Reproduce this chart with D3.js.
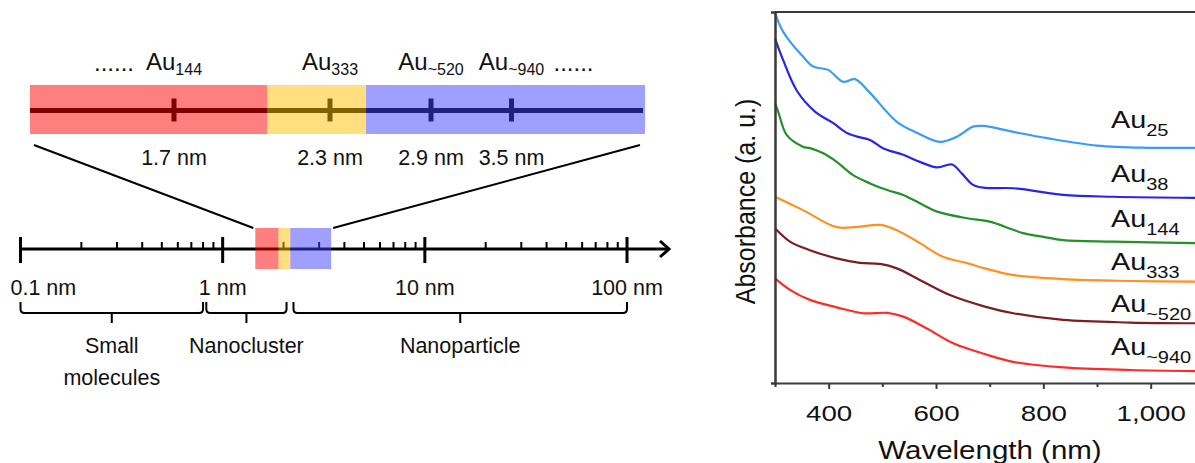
<!DOCTYPE html>
<html>
<head>
<meta charset="utf-8">
<script src="https://cdn.jsdelivr.net/npm/d3@7"></script>
<style>
  html, body { margin: 0; padding: 0; background: #fff; overflow: hidden; }
  text { font-family: "Liberation Sans", Arial, Helvetica, sans-serif; fill: #111; }
</style>
</head>
<body>
<svg id="fig" width="1195" height="463"></svg>
<script>
// ---------- size scale (left panel) ----------
const decadeTicks = [0.1, 1, 10, 100];
const decadeLabels = ["0.1 nm", "1 nm", "10 nm", "100 nm"];
const regionNames = [["Small", "molecules"], ["Nanocluster"], ["Nanoparticle"]];
const regionFrom = [0.1, 0.83, 2.24];
const regionTo = [0.8, 2.07, 100];
const bandColors = ["#ff0000", "#ffbf00", "#3f3fff"];
const bandFrom = [1.45, 1.89, 2.16];
const bandTo = [1.89, 2.16, 3.44];
const clusterSubs = ["144", "333", "~520", "~940"];
const clusterSizes = [1.7, 2.3, 2.9, 3.5];
const clusterLabels = ["1.7 nm", "2.3 nm", "2.9 nm", "3.5 nm"];
const zoomBandFrom = [1.146, 2.058, 2.514];
const zoomBandTo = [2.058, 2.514, 4.495];

// ---------- absorption spectra (right panel) ----------
const seriesSubs = ["25", "38", "144", "333", "~520", "~940"];
const seriesColors = ["#3a9cf8", "#2a24e6", "#24902a", "#ff9022", "#7a1e22", "#ff2a2a"];
const wlAu25  = [300, 306, 315, 328, 352, 371, 399, 427, 449, 477, 527, 565, 607, 639, 669, 688, 744, 807, 900, 993, 1085];
const absAu25 = [10.0, 9.74, 9.47, 9.20, 8.80, 8.53, 8.44, 8.12, 8.19, 7.82, 7.04, 6.74, 6.50, 6.64, 6.91, 6.93, 6.77, 6.60, 6.40, 6.34, 6.34];
const wlAu38  = [300, 315, 341, 375, 408, 434, 453, 477, 501, 539, 570, 602, 630, 648, 669, 691, 744, 837, 930, 1085];
const absAu38 = [9.29, 8.71, 7.87, 7.31, 7.01, 6.74, 6.64, 6.55, 6.33, 6.15, 5.96, 5.81, 5.89, 5.65, 5.34, 5.26, 5.25, 5.07, 5.02, 4.99];
const wlAu144  = [300, 306, 322, 352, 365, 390, 415, 445, 477, 509, 539, 576, 602, 658, 700, 740, 762, 800, 837, 930, 1085];
const absAu144 = [7.54, 7.31, 6.68, 6.37, 6.33, 6.19, 5.96, 5.61, 5.38, 5.20, 5.07, 4.80, 4.62, 4.44, 4.35, 4.15, 4.04, 3.94, 3.85, 3.81, 3.77];
const wlAu333  = [300, 352, 415, 453, 496, 527, 570, 613, 658, 691, 744, 837, 962, 1085];
const absAu333 = [5.02, 4.66, 4.20, 4.21, 4.26, 4.12, 3.77, 3.40, 3.23, 3.09, 2.91, 2.80, 2.75, 2.73];
const wlAu520  = [300, 328, 365, 415, 458, 496, 527, 576, 626, 691, 744, 837, 962, 1085];
const absAu520 = [4.17, 3.81, 3.58, 3.36, 3.24, 3.21, 3.09, 2.73, 2.37, 2.06, 1.88, 1.70, 1.63, 1.61];
const wlAu940  = [300, 328, 365, 415, 464, 509, 539, 583, 632, 691, 744, 837, 962, 1085];
const absAu940 = [2.82, 2.51, 2.24, 2.04, 1.88, 1.89, 1.79, 1.47, 1.07, 0.78, 0.57, 0.42, 0.35, 0.32];
const majorWl = [400, 600, 800, 1000];
const minorWl = [300, 500, 700, 900, 1100];

const svg = d3.select("#fig");

// ======================= left panel =======================
const left = svg.append("g");
const xLog = d3.scaleLog().domain([0.1, 100]).range([20.5, 627]);
const xZoom = d3.scaleLinear().domain(clusterSizes).range([174, 330, 431, 511.5]);

const axisY = 249;
// main log axis with arrow
left.append("line")
  .attr("x1", xLog(0.1)).attr("x2", 668)
  .attr("y1", axisY).attr("y2", axisY)
  .attr("stroke", "#000").attr("stroke-width", 3);
left.append("path")
  .attr("d", `M660,241 L669,${axisY} L660,257`)
  .attr("fill", "none").attr("stroke", "#000").attr("stroke-width", 3);
// minor ticks (2..9 of each decade)
const minorNm = xLog.ticks().filter(t => !decadeTicks.some(d => Math.abs(d - t) < 1e-9));
left.selectAll("line.minor").data(minorNm).join("line")
  .attr("class", "minor")
  .attr("x1", d => xLog(d)).attr("x2", d => xLog(d))
  .attr("y1", axisY - 7).attr("y2", axisY)
  .attr("stroke", "#000").attr("stroke-width", 2);
// decade ticks
left.selectAll("line.major").data(decadeTicks).join("line")
  .attr("class", "major")
  .attr("x1", d => xLog(d)).attr("x2", d => xLog(d))
  .attr("y1", axisY - 12).attr("y2", axisY + 14)
  .attr("stroke", "#000").attr("stroke-width", 3);
left.selectAll("text.dec").data(decadeTicks).join("text")
  .attr("class", "dec")
  .attr("x", (d, i) => i === 0 ? xLog(d) - 10 : xLog(d))
  .attr("y", 295)
  .attr("text-anchor", (d, i) => i === 0 ? "start" : "middle")
  .attr("font-size", 21.5)
  .text((d, i) => decadeLabels[i]);

// braces under the axis
const braceTop = 302, braceMid = 313, braceTip = 323;
regionNames.forEach((name, i) => {
  const x1 = xLog(regionFrom[i]), x2 = xLog(regionTo[i]);
  const xm = (x1 + x2) / 2;
  left.append("path")
    .attr("d", `M${x1},${braceTop} L${x1},${braceMid - 4} Q${x1},${braceMid} ${x1 + 4},${braceMid}` +
               ` L${x2 - 4},${braceMid} Q${x2},${braceMid} ${x2},${braceMid - 4} L${x2},${braceTop}` +
               ` M${xm},${braceMid} L${xm},${braceTip}`)
    .attr("fill", "none").attr("stroke", "#000").attr("stroke-width", 2);
  name.forEach((line, k) => {
    left.append("text")
      .attr("x", xm).attr("y", 353 + k * 32)
      .attr("text-anchor", "middle").attr("font-size", 21.5)
      .text(line);
  });
});

// highlighted nanocluster window on the axis
left.selectAll("rect.band").data(bandColors).join("rect")
  .attr("class", "band")
  .attr("x", (d, i) => xLog(bandFrom[i]))
  .attr("width", (d, i) => xLog(bandTo[i]) - xLog(bandFrom[i]))
  .attr("y", 228).attr("height", 41)
  .attr("fill", d => d).attr("fill-opacity", 0.5);

// magnified bar
const barY = 110.5;
left.append("line")
  .attr("x1", xZoom(zoomBandFrom[0])).attr("x2", xZoom(zoomBandTo[2]) - 2)
  .attr("y1", barY).attr("y2", barY)
  .attr("stroke", "#000").attr("stroke-width", 5);
left.selectAll("line.ctick").data(clusterSizes).join("line")
  .attr("class", "ctick")
  .attr("x1", d => xZoom(d)).attr("x2", d => xZoom(d))
  .attr("y1", barY - 12).attr("y2", barY + 11)
  .attr("stroke", "#000").attr("stroke-width", 5);
left.selectAll("rect.zband").data(bandColors).join("rect")
  .attr("class", "zband")
  .attr("x", (d, i) => xZoom(zoomBandFrom[i]))
  .attr("width", (d, i) => xZoom(zoomBandTo[i]) - xZoom(zoomBandFrom[i]))
  .attr("y", 85).attr("height", 49)
  .attr("fill", d => d).attr("fill-opacity", 0.5);

// connector lines between window and magnified bar
left.append("line")
  .attr("x1", xZoom(zoomBandFrom[0]) + 4).attr("y1", 145)
  .attr("x2", xLog(bandFrom[0]) - 2).attr("y2", 228)
  .attr("stroke", "#000").attr("stroke-width", 2);
left.append("line")
  .attr("x1", xZoom(zoomBandTo[2]) - 5).attr("y1", 145)
  .attr("x2", xLog(bandTo[2]) + 2).attr("y2", 228)
  .attr("stroke", "#000").attr("stroke-width", 2);

// size labels and cluster names
left.selectAll("text.size").data(clusterLabels).join("text")
  .attr("class", "size")
  .attr("x", (d, i) => xZoom(clusterSizes[i])).attr("y", 165)
  .attr("text-anchor", "middle").attr("font-size", 21.5)
  .text(d => d);
clusterSubs.forEach((sub, i) => {
  const t = left.append("text")
    .attr("x", xZoom(clusterSizes[i])).attr("y", 70)
    .attr("text-anchor", "middle");
  t.append("tspan").attr("font-size", 24).text("Au");
  t.append("tspan").attr("font-size", 16).attr("dy", 4.5).text(sub);
});
left.append("text")
  .attr("x", xZoom(clusterSizes[0]) - 40).attr("y", 71)
  .attr("text-anchor", "end").attr("font-size", 24).text("......");
left.append("text")
  .attr("x", xZoom(clusterSizes[3]) + 42).attr("y", 71)
  .attr("text-anchor", "start").attr("font-size", 24).text("......");

// ======================= right panel =======================
const right = svg.append("g");
const xW = d3.scaleLinear().domain([300, 1100]).range([775, 775 + 800 * 0.5367]);
const yA = d3.scaleLinear().domain([0, 10]).range([383, 12]);

// plot frame top edge
right.append("line")
  .attr("x1", xW(300)).attr("x2", xW(1100))
  .attr("y1", yA(10)).attr("y2", yA(10))
  .attr("stroke", "#3a3a3a").attr("stroke-width", 2);

const series = [
  [wlAu25, absAu25], [wlAu38, absAu38], [wlAu144, absAu144],
  [wlAu333, absAu333], [wlAu520, absAu520], [wlAu940, absAu940]
];
const line = d3.line()
  .x(d => xW(d[0])).y(d => yA(d[1]))
  .curve(d3.curveCatmullRom.alpha(0.5));
series.forEach(([wl, ab], i) => {
  right.append("path")
    .datum(wl.map((w, k) => [w, ab[k]]))
    .attr("d", line)
    .attr("fill", "none")
    .attr("stroke", seriesColors[i])
    .attr("stroke-width", 2.2);
});

// axes
const gx = right.append("g").attr("transform", `translate(0,${yA(0)})`)
  .call(d3.axisBottom(xW).tickValues(majorWl).tickSize(6).tickSizeOuter(0)
    .tickFormat(d3.format(",")));
gx.select(".domain").attr("stroke", "#3a3a3a").attr("stroke-width", 2);
gx.selectAll(".tick line").attr("stroke", "#3a3a3a").attr("stroke-width", 2);
gx.selectAll(".tick text")
  .attr("y", 38.5).attr("dy", null)
  .attr("font-size", 22.5)
  .attr("font-family", "'Liberation Sans', Arial, sans-serif")
  .attr("fill", "#111")
  .attr("transform", "scale(1.23,1)");
const gxm = right.append("g").attr("transform", `translate(0,${yA(0)})`)
  .call(d3.axisBottom(xW).tickValues(minorWl).tickSize(4).tickFormat(""));
gxm.select(".domain").remove();
gxm.selectAll(".tick line").attr("stroke", "#3a3a3a").attr("stroke-width", 2);

const gy = right.append("g").attr("transform", `translate(${xW(300)},0)`)
  .call(d3.axisLeft(yA).tickValues([]).tickSizeOuter(4));
gy.select(".domain").attr("stroke", "#3a3a3a").attr("stroke-width", 2.5);

// axis titles
right.append("text")
  .attr("transform", "translate(990,459) scale(1.18,1)")
  .attr("text-anchor", "middle").attr("font-size", 25)
  .text("Wavelength (nm)");
right.append("text")
  .attr("transform", "translate(755,201.5) scale(1.12,1) rotate(-90)")
  .attr("text-anchor", "middle").attr("font-size", 25)
  .text("Absorbance (a. u.)");

// series labels
const labelBaselines = [128, 182, 227, 270, 312, 355];
seriesSubs.forEach((sub, i) => {
  const t = right.append("text")
    .attr("transform", `translate(1111,${labelBaselines[i]}) scale(1.25,1)`)
    .attr("text-anchor", "start");
  t.append("tspan").attr("font-size", 23).text("Au");
  t.append("tspan").attr("font-size", 16).attr("dy", 8).text(sub);
});
</script>
</body>
</html>
